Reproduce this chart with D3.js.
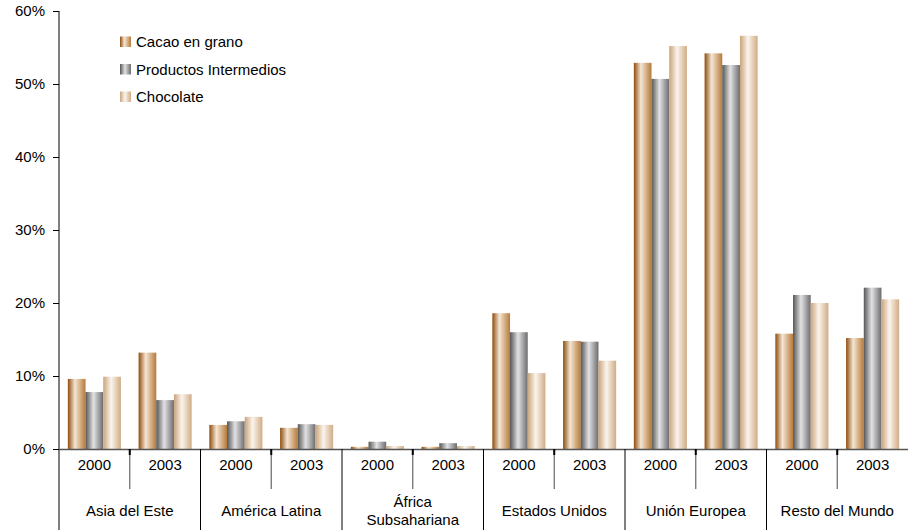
<!DOCTYPE html>
<html>
<head>
<meta charset="utf-8">
<script src="https://cdn.jsdelivr.net/npm/d3@7"></script>
<style>
  html, body { margin: 0; padding: 0; background: #fff; }
  svg { display: block; font-family: Arial, "Liberation Sans", sans-serif; }
</style>
</head>
<body>
<svg id="chart" width="908" height="530"></svg>
<script>
// Regions and years along the x axis
const regions = [["Asia del Este"], ["América Latina"], ["África", "Subsahariana"], ["Estados Unidos"], ["Unión Europea"], ["Resto del Mundo"]];
const years = ["2000", "2003"];
const seriesNames = ["Cacao en grano", "Productos Intermedios", "Chocolate"];

// Share of world consumption (%), one entry per region/year slot
const cacao     = [9.6, 13.2, 3.3, 2.9, 0.3, 0.3, 18.6, 14.8, 52.9, 54.2, 15.8, 15.2];
const productos = [7.8, 6.7, 3.8, 3.4, 1.0, 0.8, 16.0, 14.7, 50.7, 52.6, 21.1, 22.1];
const chocolate = [9.9, 7.5, 4.4, 3.3, 0.4, 0.4, 10.4, 12.1, 55.2, 56.6, 20.0, 20.5];
const yTicks = [0, 10, 20, 30, 40, 50, 60];

const svg = d3.select("#chart");
const plotLeft = 59, plotRight = 908, plotTop = 11, base = 449;
const fs = 15;

const slots = d3.range(regions.length * years.length);
const x = d3.scaleBand().domain(slots).range([plotLeft, plotRight]).paddingInner(0).paddingOuter(0);
const inner = d3.scaleBand().domain(d3.range(3)).range([0, x.bandwidth()]).paddingOuter(0.5).paddingInner(0);
const y = d3.scaleLinear().domain([0, 60]).range([base, plotTop]);

// Horizontal cylinder-like gradients for each series
const defs = svg.append("defs");
const grads = [
  [["0%", "#8e4c0c"], ["40%", "#f4e6d4"], ["100%", "#b67a3a"]],
  [["0%", "#555555"], ["45%", "#e2e2e4"], ["100%", "#6c6c6e"]],
  [["0%", "#c9a47c"], ["45%", "#fbf4ec"], ["100%", "#d0ac86"]]
];
grads.forEach((stops, i) => {
  const g = defs.append("linearGradient").attr("id", "g" + i)
    .attr("x1", "0%").attr("x2", "100%").attr("y1", "0%").attr("y2", "0%");
  stops.forEach(s => g.append("stop").attr("offset", s[0]).attr("stop-color", s[1]));
});

// Bars
const series = [cacao, productos, chocolate];
series.forEach((vals, si) => {
  svg.append("g").selectAll("rect").data(vals).join("rect")
    .attr("x", (d, i) => x(i) + inner(si))
    .attr("width", inner.bandwidth())
    .attr("y", d => y(d))
    .attr("height", d => base - y(d))
    .attr("fill", `url(#g${si})`);
});

// Y axis
const yAxis = d3.axisLeft(y).tickValues(yTicks).tickFormat(d => d + "%").tickSize(6).tickPadding(8);
const ya = svg.append("g").attr("transform", `translate(${plotLeft},0)`).call(yAxis);
ya.select(".domain").remove();
ya.selectAll("line").attr("stroke", "#000");
ya.selectAll("text").attr("font-size", fs).attr("fill", "#000").attr("font-family", null);
svg.append("line").attr("x1", plotLeft).attr("x2", plotLeft).attr("y1", plotTop).attr("y2", 530).attr("stroke", "#000");

// Baseline
svg.append("line").attr("x1", plotLeft).attr("x2", plotRight).attr("y1", base + 0.5).attr("y2", base + 0.5)
  .attr("stroke", "#555").attr("stroke-width", 1.5);

// Year separators within each region
const yearSep = d3.range(regions.length).map(r => x(r * 2 + 1));
svg.append("g").selectAll("line").data(yearSep).join("line")
  .attr("x1", d => d).attr("x2", d => d).attr("y1", base).attr("y2", 489)
  .attr("stroke", "#666").attr("stroke-width", 1.2);
svg.append("g").selectAll("line").data(yearSep).join("line")
  .attr("x1", d => d).attr("x2", d => d).attr("y1", base).attr("y2", base + 6)
  .attr("stroke", "#000").attr("stroke-width", 2);

// Region separators
const regSep = d3.range(1, regions.length).map(r => x(r * 2));
svg.append("g").selectAll("line").data(regSep).join("line")
  .attr("x1", d => d).attr("x2", d => d).attr("y1", base).attr("y2", 530)
  .attr("stroke", "#000").attr("stroke-width", 1);

// Year labels
svg.append("g").selectAll("text").data(slots).join("text")
  .attr("x", d => x(d) + x.bandwidth() / 2)
  .attr("y", 470)
  .attr("text-anchor", "middle").attr("font-size", fs).attr("fill", "#000")
  .text(d => years[d % 2]);

// Region labels
regions.forEach((lines, r) => {
  const cx = x(r * 2) + x.bandwidth();
  const t = svg.append("text").attr("text-anchor", "middle").attr("font-size", fs).attr("fill", "#000");
  const startY = lines.length === 1 ? 516 : 507;
  lines.forEach((ln, k) => {
    t.append("tspan").attr("x", cx).attr("y", startY + k * 18).text(ln);
  });
});

// Legend
const leg = svg.append("g");
seriesNames.forEach((name, i) => {
  const ly = 42 + i * 27.5;
  leg.append("rect").attr("x", 120).attr("y", ly - 5.5).attr("width", 11).attr("height", 10.5)
    .attr("fill", `url(#g${i})`);
  leg.append("text").attr("x", 136).attr("y", ly + 5).attr("font-size", fs).attr("fill", "#000").text(name);
});
</script>
</body>
</html>
